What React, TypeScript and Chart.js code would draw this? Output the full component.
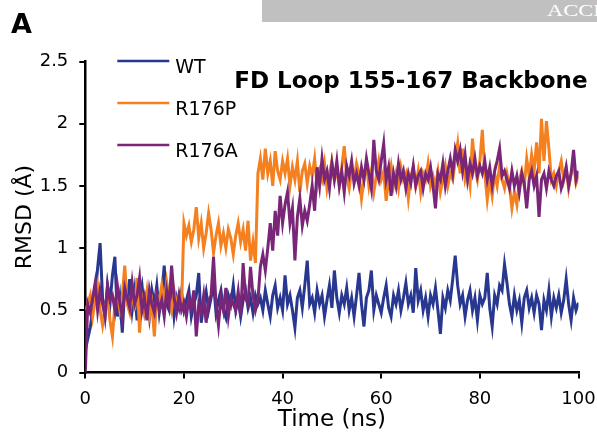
import React, { useEffect, useRef } from "react";
import { Chart, registerables } from "chart.js";

Chart.register(...registerables);

// sampling grid (ns)
const TIME_NS: number[] = Array.from({ length: 201 }, (_, i) => i * 0.5);

const WT: number[] = [
  0.5,
  0.27, 0.36, 0.5, 0.62, 0.84, 1.04, 0.6, 0.45, 0.7, 0.55,
  0.78, 0.93, 0.45, 0.6, 0.32, 0.68, 0.58, 0.75, 0.5, 0.66,
  0.42, 0.6, 0.7, 0.5, 0.62, 0.45, 0.66, 0.55, 0.7, 0.48,
  0.62, 0.86, 0.55, 0.5, 0.68, 0.45, 0.6, 0.52, 0.65, 0.5,
  0.58, 0.66, 0.45, 0.55, 0.62, 0.8, 0.4, 0.55, 0.65, 0.5,
  0.6, 0.72, 0.48, 0.58, 0.66, 0.5, 0.44, 0.62, 0.55, 0.7,
  0.5, 0.6, 0.45, 0.58, 0.66, 0.52, 0.6, 0.48, 0.62, 0.55,
  0.6, 0.5, 0.66, 0.55, 0.45, 0.62, 0.7, 0.52, 0.6, 0.5,
  0.78, 0.55, 0.62, 0.5, 0.36, 0.6, 0.66, 0.52, 0.7, 0.9,
  0.55, 0.6, 0.48, 0.66, 0.55, 0.62, 0.45, 0.58, 0.7, 0.52,
  0.82, 0.6, 0.48, 0.62, 0.55, 0.68, 0.5, 0.6, 0.45, 0.62,
  0.8, 0.55, 0.37, 0.6, 0.66, 0.82, 0.5, 0.62, 0.55, 0.48,
  0.6, 0.7, 0.52, 0.45, 0.62, 0.55, 0.66, 0.5, 0.6, 0.72,
  0.55, 0.62, 0.48, 0.84, 0.58, 0.66, 0.5, 0.6, 0.45, 0.62,
  0.55, 0.68, 0.5, 0.31, 0.6, 0.52, 0.66, 0.58, 0.75, 0.94,
  0.7, 0.55, 0.62, 0.45, 0.58, 0.66, 0.5, 0.6, 0.42, 0.62,
  0.55, 0.6, 0.8, 0.52, 0.37, 0.62, 0.55, 0.7, 0.66, 0.87,
  0.72, 0.55, 0.45, 0.62, 0.5, 0.58, 0.4, 0.6, 0.66, 0.52,
  0.6, 0.48, 0.62, 0.55, 0.34, 0.58, 0.5, 0.66, 0.45, 0.6,
  0.52, 0.62, 0.48, 0.58, 0.75, 0.55, 0.42, 0.6, 0.5, 0.56,
];

const R176P: number[] = [
  0.5,
  0.55, 0.62, 0.45, 0.58, 0.7, 0.5, 0.38, 0.52, 0.6, 0.42,
  0.29, 0.55, 0.66, 0.5, 0.62, 0.86, 0.55, 0.48, 0.66, 0.5,
  0.76, 0.32, 0.6, 0.5, 0.65, 0.45, 0.55, 0.29, 0.62, 0.58,
  0.7, 0.55, 0.73, 0.6, 0.5, 0.66, 0.55, 0.62, 0.5, 1.2,
  1.1, 1.18, 1.05, 1.15, 1.33, 1.08, 1.2, 1.0, 1.12, 1.28,
  1.15, 0.96, 1.1, 1.2, 1.02, 1.12, 1.0, 1.15, 1.08, 0.95,
  1.1, 1.2, 1.05, 1.15, 0.98, 1.22, 0.9, 1.05, 0.88, 1.6,
  1.72, 1.55, 1.8, 1.6, 1.7, 1.5, 1.78, 1.62, 1.55, 1.7,
  1.6, 1.72, 1.5, 1.65, 1.55, 1.7, 1.45, 1.62, 1.68, 1.52,
  1.66, 1.58, 1.72, 1.5, 1.62, 1.55, 1.68, 1.48, 1.6, 1.7,
  1.55, 1.62, 1.5, 1.65, 1.82, 1.58, 1.48, 1.62, 1.55, 1.68,
  1.6, 1.4, 1.55, 1.68, 1.5, 1.62, 1.45, 1.58, 1.7, 1.55,
  1.62, 1.38, 1.55, 1.66, 1.5, 1.6, 1.48, 1.65, 1.55, 1.6,
  1.4, 1.58, 1.65, 1.5, 1.62, 1.45, 1.6, 1.55, 1.68, 1.5,
  1.58, 1.5, 1.62, 1.45, 1.55, 1.66, 1.5, 1.6, 1.55, 1.7,
  1.84, 1.6, 1.8, 1.55, 1.62, 1.5, 1.88, 1.65, 1.55, 1.7,
  1.95, 1.6, 1.39, 1.55, 1.42, 1.6, 1.5, 1.66, 1.55, 1.48,
  1.6, 1.5, 1.32, 1.45, 1.35, 1.55, 1.62, 1.5, 1.72, 1.58,
  1.75, 1.62, 1.85, 1.6, 2.04, 1.7, 2.02, 1.8, 1.55, 1.6,
  1.5, 1.62, 1.7, 1.55, 1.65, 1.48, 1.6, 1.68, 1.52, 1.58,
];

const R176A: number[] = [
  0.0,
  0.55, 0.48, 0.6, 0.72, 0.5, 0.66, 0.55, 0.45, 0.7, 0.58,
  0.62, 0.5, 0.7, 0.56, 0.45, 0.68, 0.6, 0.52, 0.72, 0.55,
  0.62, 0.76, 0.5, 0.6, 0.42, 0.66, 0.55, 0.48, 0.62, 0.5,
  0.58, 0.45, 0.66, 0.55, 0.86, 0.6, 0.48, 0.62, 0.5, 0.56,
  0.45, 0.6, 0.52, 0.66, 0.29, 0.55, 0.48, 0.62, 0.4, 0.58,
  0.62, 0.93, 0.55, 0.38, 0.6, 0.5, 0.68, 0.45, 0.6, 0.55,
  0.5, 0.65, 0.45, 0.88, 0.6, 0.55, 0.85, 0.62, 0.5, 0.58,
  0.85, 0.95, 0.82, 1.0, 1.2, 0.98, 1.3, 1.1, 1.42, 1.2,
  1.35, 1.45, 1.2, 1.32, 0.9, 1.25, 1.4, 1.18, 1.3, 1.22,
  1.35, 1.5, 1.3, 1.65, 1.5, 1.72, 1.55, 1.62, 1.48, 1.68,
  1.55, 1.7, 1.5, 1.62, 1.45, 1.66, 1.58, 1.7, 1.52, 1.6,
  1.5, 1.65, 1.55, 1.72, 1.6, 1.48, 1.87, 1.62, 1.55, 1.7,
  1.84, 1.55, 1.65, 1.42, 1.6, 1.5, 1.68, 1.55, 1.62, 1.48,
  1.6, 1.52, 1.66, 1.5, 1.58, 1.62, 1.48, 1.6, 1.55, 1.65,
  1.5, 1.32, 1.6, 1.55, 1.68, 1.5, 1.62, 1.72, 1.6, 1.79,
  1.7, 1.79, 1.62, 1.75, 1.55, 1.68, 1.6, 1.72, 1.58, 1.66,
  1.6, 1.7, 1.55, 1.65, 1.5, 1.62, 1.7, 1.8, 1.58, 1.62,
  1.55, 1.48, 1.62, 1.5, 1.58, 1.45, 1.6, 1.52, 1.32, 1.55,
  1.62, 1.5, 1.58, 1.25, 1.55, 1.6, 1.48, 1.62, 1.55, 1.5,
  1.58, 1.62, 1.48, 1.55, 1.65, 1.5, 1.6, 1.79, 1.55, 1.62,
];

const SERIES_NAMES = ["WT", "R176P", "R176A"];
const SERIES_COLORS = ["#283890", "#F48020", "#7A2678"];
const X_TICKS = [0, 20, 40, 60, 80, 100];
const Y_TICKS = [0, 0.5, 1, 1.5, 2, 2.5];
const Y_TICK_LABELS = ["0", "0.5", "1", "1.5", "2", "2.5"];
const X_TICK_LABELS = ["0", "20", "40", "60", "80", "100"];
const TITLE = "FD Loop 155-167 Backbone";
const PANEL = "A";
const X_TITLE = "Time (ns)";
const Y_TITLE = "RMSD (Å)";
const BANNER = "ACCEPTED MANUSCRIPT";

const FONT = "'DejaVu Sans', sans-serif";

const overlayPlugin = {
  id: "overlayText",
  afterDraw(chart: any) {
    const ctx = chart.ctx as CanvasRenderingContext2D;
    const area = chart.chartArea;
    ctx.save();
    ctx.fillStyle = "#000";
    ctx.textBaseline = "alphabetic";
    ctx.textAlign = "left";
    ctx.font = `bold 27px ${FONT}`;
    ctx.fillText(PANEL, 11, 33);

    ctx.font = `bold 23px ${FONT}`;
    ctx.textAlign = "right";
    ctx.fillText(TITLE, area.right + 9, area.top + 26.5);

    // legend
    const legendX = area.left + 32;
    chart.data.datasets.forEach((ds: any, i: number) => {
      const y = area.top - 0.5 + i * 42;
      ctx.strokeStyle = ds.borderColor;
      ctx.lineWidth = 2.5;
      ctx.beginPath();
      ctx.moveTo(legendX, y);
      ctx.lineTo(legendX + 52, y);
      ctx.stroke();
      ctx.fillStyle = "#000";
      ctx.font = `19px ${FONT}`;
      ctx.textAlign = "left";
      ctx.textBaseline = "alphabetic";
      ctx.fillText(ds.label, legendX + 58, y + 11.5);
    });
    ctx.restore();
  },
};

export default function App() {
  const canvasRef = useRef<HTMLCanvasElement | null>(null);

  useEffect(() => {
    if (!canvasRef.current) return;
    const seriesData = [WT, R176P, R176A];
    const chart = new Chart(canvasRef.current, {
      type: "line",
      data: {
        datasets: SERIES_NAMES.map((name, i) => ({
          label: name,
          data: seriesData[i].map((v, j) => ({ x: TIME_NS[j], y: v })),
          borderColor: SERIES_COLORS[i],
          backgroundColor: SERIES_COLORS[i],
          borderWidth: 3,
          pointRadius: 0,
          tension: 0,
          fill: false,
          order: 3 - i,
        })),
      },
      options: {
        animation: false,
        responsive: false,
        maintainAspectRatio: false,
        layout: { padding: { top: 61.5, right: 18.5, left: 0, bottom: 0 } },
        plugins: {
          legend: { display: false },
          tooltip: { enabled: false },
          title: { display: false },
        },
        scales: {
          x: {
            type: "linear",
            min: 0,
            max: 100,
            afterBuildTicks: (scale: any) => {
              scale.ticks = X_TICKS.map((v) => ({ value: v }));
            },
            afterFit: (scale: any) => {
              scale.height = 62.5;
              scale.paddingLeft = 0;
              scale.paddingRight = 0;
            },
            border: { display: true, color: "#000", width: 2.5 },
            grid: {
              display: true,
              drawOnChartArea: false,
              drawTicks: true,
              tickLength: 6,
              color: "#000",
              lineWidth: 2,
            },
            ticks: {
              color: "#000",
              font: { family: FONT, size: 18 },
              padding: 10,
              maxRotation: 0,
              autoSkip: false,
              callback: (v: any) => {
                const k = X_TICKS.indexOf(Number(v));
                return k >= 0 ? X_TICK_LABELS[k] : "";
              },
            },
            title: {
              display: true,
              text: X_TITLE,
              color: "#000",
              font: { family: FONT, size: 23 },
              padding: { top: 0, bottom: 1 },
            },
          },
          y: {
            type: "linear",
            min: 0,
            max: 2.5,
            afterBuildTicks: (scale: any) => {
              scale.ticks = Y_TICKS.map((v) => ({ value: v }));
            },
            afterFit: (scale: any) => {
              scale.width = 85.3;
              scale.paddingTop = 0;
              scale.paddingBottom = 0;
            },
            border: { display: true, color: "#000", width: 2.5 },
            grid: {
              display: true,
              drawOnChartArea: false,
              drawTicks: true,
              tickLength: 6,
              color: "#000",
              lineWidth: 2,
            },
            ticks: {
              color: "#000",
              font: { family: FONT, size: 18 },
              padding: 11,
              autoSkip: false,
              callback: (v: any) => {
                const k = Y_TICKS.findIndex((t) => Math.abs(t - Number(v)) < 1e-9);
                return k >= 0 ? Y_TICK_LABELS[k] : "";
              },
            },
            title: {
              display: true,
              text: Y_TITLE,
              color: "#000",
              font: { family: FONT, size: 22 },
              padding: { top: 12, bottom: 0 },
            },
          },
        },
      },
      plugins: [overlayPlugin],
    } as any);
    return () => chart.destroy();
  }, []);

  return (
    <div
      style={{
        position: "fixed",
        left: 0,
        top: 0,
        width: 597,
        height: 435,
        background: "#fff",
        overflow: "hidden",
      }}
    >
      <canvas
        ref={canvasRef}
        width={597}
        height={435}
        style={{ position: "absolute", left: 0, top: 0, width: 597, height: 435 }}
      />
      <div
        style={{
          position: "absolute",
          left: 262,
          top: 0,
          width: 335,
          height: 22,
          background: "#c0c0c0",
          overflow: "hidden",
          whiteSpace: "nowrap",
        }}
      >
        <span
          style={{
            position: "absolute",
            left: 285,
            top: 1,
            fontFamily: "'Liberation Serif', serif",
            fontSize: 17,
            color: "#ffffff",
            lineHeight: "20px",
            transform: "scaleX(1.32)",
            transformOrigin: "left top",
          }}
        >
          {BANNER}
        </span>
      </div>
    </div>
  );
}
